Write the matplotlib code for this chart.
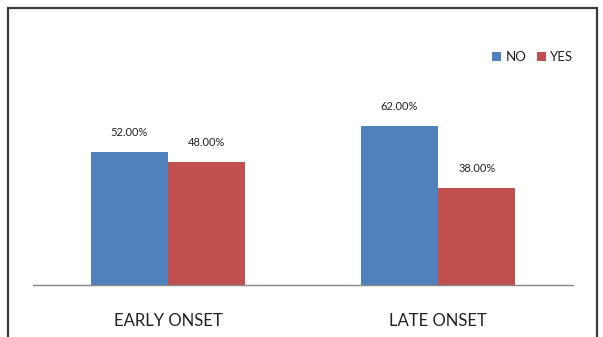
import numpy as np
import matplotlib.pyplot as plt
from matplotlib.patches import Rectangle

# data
categories = ['EARLY ONSET', 'LATE ONSET']
series = ['NO', 'YES']
no_vals = [52.0, 62.0]
yes_vals = [48.0, 38.0]
colors = {'NO': '#4F81BD', 'YES': '#C0504D'}

plt.rcParams['font.family'] = ['Lato', 'DejaVu Sans']

W, H = 603, 337
fig = plt.figure(figsize=(W / 100, H / 100), dpi=100)

# outer chart border (bottom runs past the image edge)
fig.patches.append(Rectangle((8 / W, -0.05), (597 - 8) / W, (H - 8) / H + 0.05,
                             transform=fig.transFigure, fill=False,
                             edgecolor='#3a3a3a', linewidth=1.6))

ax = fig.add_axes([33 / W, (H - 285) / H, 540 / W, 200 / H])
x = np.arange(len(categories))
bw = 0.287

bars_no = ax.bar(x - bw / 2, no_vals, bw, color=colors['NO'], label='NO')
bars_yes = ax.bar(x + bw / 2, yes_vals, bw, color=colors['YES'], label='YES')

for bars in (bars_no, bars_yes):
    for b in bars:
        ax.annotate(f'{b.get_height():.2f}%',
                    (b.get_x() + b.get_width() / 2, b.get_height()),
                    xytext=(0, 10), textcoords='offset points',
                    ha='center', va='bottom', fontsize=8, color='#222222')

ax.set_xlim(-0.5, 1.5)
ax.set_ylim(0, 200 / 2.56)
ax.set_xticks(x)
ax.set_xticklabels(categories, fontsize=12, color='#222222')
ax.tick_params(axis='x', length=0, pad=20)
ax.set_yticks([])
for s in ('top', 'right', 'left'):
    ax.spines[s].set_visible(False)
ax.spines['bottom'].set_color('#868686')
ax.spines['bottom'].set_linewidth(1.0)

leg = fig.legend(loc='center right', bbox_to_anchor=(585 / W, (H - 57) / H),
                 ncol=2, frameon=False, fontsize=9.5, handlelength=0.7,
                 handleheight=0.7, handletextpad=0.3, columnspacing=0.8)
for t in leg.get_texts():
    t.set_color('#222222')

fig.savefig('out.png', dpi=100)
